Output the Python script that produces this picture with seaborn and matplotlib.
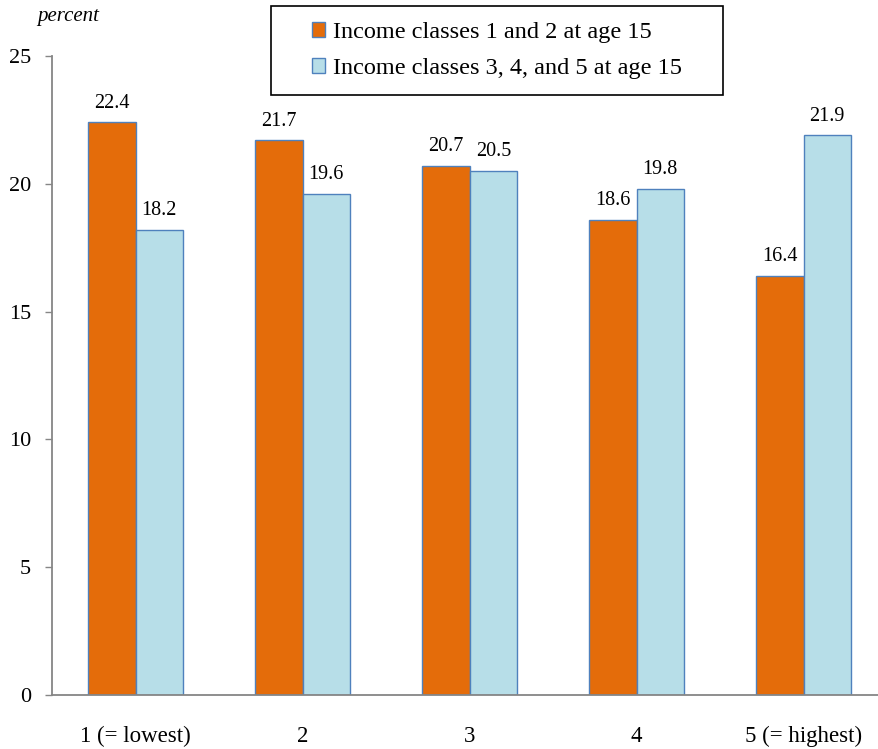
import matplotlib as mat
import matplotlib.pyplot as plt
import seaborn as sns
import pandas as pd
from matplotlib.patches import Rectangle

# data
classes = ['1 (= lowest)', '2', '3', '4', '5 (= highest)']
series = ['Income classes 1 and 2 at age 15', 'Income classes 3, 4, and 5 at age 15']
low_income = [22.4, 21.7, 20.7, 18.6, 16.4]
high_income = [18.2, 19.6, 20.5, 19.8, 21.9]
yticks = [0, 5, 10, 15, 20, 25]

df = pd.DataFrame({
    'cls': classes * 2,
    'group': [series[0]] * 5 + [series[1]] * 5,
    'pct': low_income + high_income,
})

sns.set_style('white')
mat.rcParams['font.family'] = ['Liberation Serif', 'DejaVu Serif']
mat.rcParams['text.color'] = 'black'

fig = plt.figure(figsize=(8.79, 7.49), dpi=100)
ax = fig.add_axes([52/879, 54/749, 835/879, 639/749])

c = ['#E46C0A', '#B7DEE8']
edge = '#4F81BD'
sns.barplot(data=df, x='cls', y='pct', hue='group', order=classes, hue_order=series,
            palette=c, saturation=1, width=0.57, edgecolor=edge, linewidth=1.0, ax=ax,
            legend=False)

for cont in ax.containers:
    ax.bar_label(cont, fmt='%.1f', padding=7, fontsize=14.5, color='black')

ax.set_xlim(-0.5, 4.5)
ax.set_ylim(0, 25)
ax.set_yticks(yticks)
ax.set_xlabel('')
ax.set_ylabel('')

grey = '#868686'
for s in ['top', 'right']:
    ax.spines[s].set_visible(False)
for s in ['left', 'bottom']:
    ax.spines[s].set_color(grey)
    ax.spines[s].set_linewidth(1.3)

ax.set_xticks([i - 0.5 for i in range(6)], minor=True)
ax.tick_params(axis='x', which='major', length=0, pad=22, labelsize=16.5, labelcolor='black')
ax.tick_params(axis='x', which='minor', length=5, width=1, color=grey, direction='out')
ax.tick_params(axis='y', which='major', left=True, length=5, width=1, color=grey,
               direction='out', pad=10, labelsize=16, labelcolor='black')

fig.text(37/879, 1 - 17/749, 'percent', fontsize=15, style='italic', va='center', ha='left')

# legend box
fig.patches.append(Rectangle((271/879, 1 - 95/749), 452/879, 89/749, transform=fig.transFigure,
                             fill=False, ec='black', lw=1.2))
handles = [Rectangle((0, 0), 1, 1, fc=c[i], ec=edge, lw=1.0) for i in range(2)]
fig.legend(handles, series, loc='center', bbox_to_anchor=((271 + 226)/879, 1 - 50.5/749),
           frameon=False, fontsize=17.5, handlelength=0.55, handleheight=0.55,
           handletextpad=0.35, labelspacing=0.6, borderpad=0, labelcolor='black')

fig.savefig('out.png', dpi=100)
